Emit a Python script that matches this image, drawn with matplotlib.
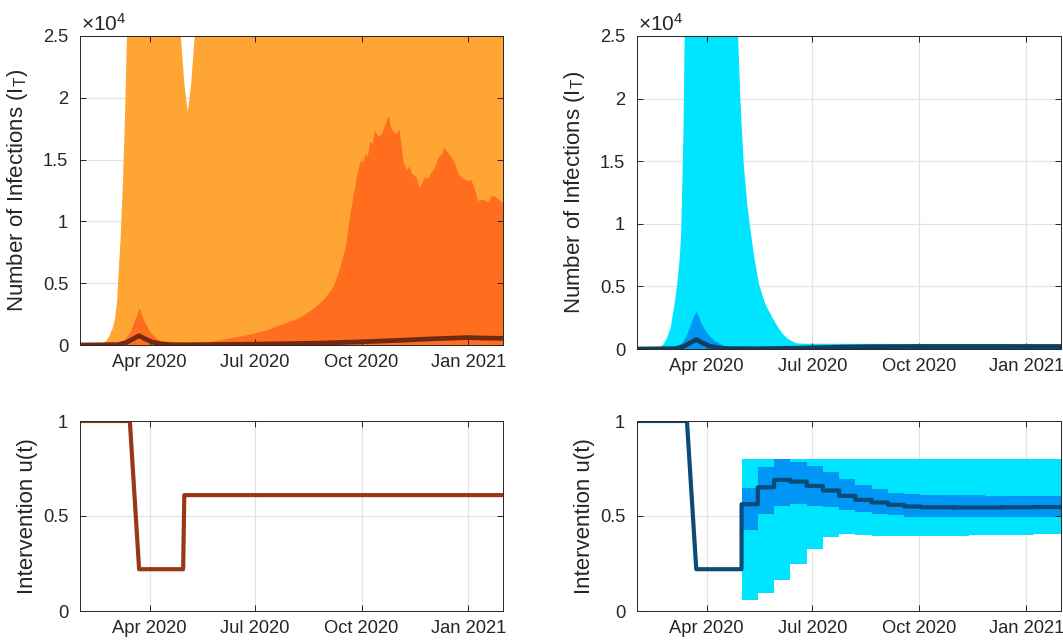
import numpy as np
import pandas as pd
import matplotlib
matplotlib.use("Agg")
import matplotlib.pyplot as plt
import matplotlib.dates as mdates
from matplotlib.ticker import FixedLocator

plt.rcParams['font.family'] = ['Liberation Sans', 'DejaVu Sans']
plt.rcParams['mathtext.default'] = 'regular'

# ---------------- data ----------------
X_START = '2020-02-01'
X_END = '2021-01-31'
X_TICKS = ['2020-04-01', '2020-07-01', '2020-10-01', '2021-01-01']

# Top-left: outer (light) band upper bound
TL_LIGHT_DATES = ['2020-02-01', '2020-02-12', '2020-02-18', '2020-02-21', '2020-02-24',
                  '2020-02-26', '2020-02-29', '2020-03-02', '2020-03-04', '2020-03-05',
                  '2020-03-07', '2020-03-09', '2020-03-11', '2020-03-12 12:00', '2020-03-14',
                  '2020-04-25', '2020-04-28', '2020-04-30', '2020-05-01', '2020-05-02 12:00',
                  '2020-05-04', '2020-05-05 12:00', '2020-05-07', '2020-05-08', '2020-05-10',
                  '2020-05-13', '2021-01-31']
TL_LIGHT_HI = [0, 15, 50, 130, 350, 670, 1300, 2000, 3500, 5300,
               8500, 13000, 19000, 25000, 60000,
               60000, 25000, 22500, 21200, 20000,
               18900, 20000, 21200, 22500, 25000,
               60000, 60000]

# Top-left: inner (dark) band upper bound
TL_DARK_DATES = ['2020-02-01', '2020-03-01', '2020-03-06', '2020-03-10', '2020-03-15',
                 '2020-03-19', '2020-03-23', '2020-03-27', '2020-04-01', '2020-04-06',
                 '2020-04-12', '2020-04-20', '2020-05-01', '2020-05-14', '2020-05-28',
                 '2020-06-11', '2020-06-26', '2020-07-10', '2020-07-24', '2020-08-08',
                 '2020-08-22', '2020-08-30', '2020-09-06', '2020-09-11', '2020-09-17',
                 '2020-09-21', '2020-09-24', '2020-09-27', '2020-09-30', '2020-10-02',
                 '2020-10-04', '2020-10-06', '2020-10-08', '2020-10-10', '2020-10-12',
                 '2020-10-15', '2020-10-18', '2020-10-21', '2020-10-24', '2020-10-26',
                 '2020-10-28', '2020-10-31', '2020-11-02', '2020-11-04', '2020-11-06',
                 '2020-11-09', '2020-11-11', '2020-11-13', '2020-11-17', '2020-11-20',
                 '2020-11-24', '2020-11-27', '2020-11-30', '2020-12-03', '2020-12-06',
                 '2020-12-09', '2020-12-11', '2020-12-14', '2020-12-17', '2020-12-20',
                 '2020-12-23', '2020-12-27', '2021-01-01', '2021-01-03', '2021-01-05',
                 '2021-01-07', '2021-01-09', '2021-01-13', '2021-01-18', '2021-01-21',
                 '2021-01-24', '2021-01-27', '2021-01-31']
TL_DARK_HI = [0, 30, 150, 400, 1000, 2000, 3000, 2000, 1100, 600,
              300, 150, 100, 190, 350, 600, 860, 1200, 1700, 2200,
              3100, 3800, 4700, 5900, 8000, 10700, 12300, 13900, 15000, 14800,
              15500, 15300, 16500, 16300, 17400, 16900, 17100, 17800, 18600, 17600,
              17300, 17100, 17500, 16200, 14700, 14200, 14500, 13900, 13600, 12700,
              13600, 13500, 14000, 14400, 15200, 15500, 16000, 15600, 15200, 14800,
              13900, 13500, 13300, 13400, 13000, 12400, 11700, 11800, 11600, 12100,
              12000, 11800, 11500]

# Top-left: median
TL_MED_DATES = ['2020-02-01', '2020-03-05', '2020-03-12', '2020-03-18', '2020-03-23',
                '2020-03-28', '2020-04-03', '2020-04-10', '2020-04-20', '2020-05-01',
                '2020-06-01', '2020-07-01', '2020-08-01', '2020-09-01', '2020-10-01',
                '2020-11-01', '2020-12-01', '2021-01-01', '2021-01-15', '2021-01-31']
TL_MED = [0, 30, 200, 500, 750, 500, 250, 100, 30, 20,
          40, 70, 110, 170, 260, 370, 500, 600, 560, 540]

# Top-right: outer (light) band upper bound
TR_LIGHT_DATES = ['2020-02-01', '2020-02-12', '2020-02-18', '2020-02-21', '2020-02-24',
                  '2020-02-27', '2020-03-01', '2020-03-03', '2020-03-05', '2020-03-07',
                  '2020-03-09', '2020-03-10', '2020-03-11', '2020-03-12', '2020-03-13',
                  '2020-03-15', '2020-04-25', '2020-04-28', '2020-04-29', '2020-04-30',
                  '2020-05-01', '2020-05-03', '2020-05-06', '2020-05-09', '2020-05-12',
                  '2020-05-16', '2020-05-21', '2020-05-27', '2020-06-01', '2020-06-05',
                  '2020-06-10', '2020-06-17', '2020-06-25', '2020-10-01', '2021-01-31']
TR_LIGHT_HI = [0, 15, 50, 150, 400, 900, 1700, 2850, 4000, 5500,
               7500, 9300, 13000, 17200, 25000, 60000, 60000, 25000, 22500, 20000,
               18000, 14600, 11500, 9300, 7300, 5200, 3700, 2600, 1800, 1250,
               800, 450, 420, 400, 380]

# Top-right: inner band upper bound
TR_MID_DATES = ['2020-02-01', '2020-03-05', '2020-03-10', '2020-03-14', '2020-03-18',
                '2020-03-21', '2020-03-23', '2020-03-25', '2020-03-27', '2020-04-01',
                '2020-04-07', '2020-04-15', '2020-04-25', '2020-05-10', '2020-06-01',
                '2020-07-01', '2020-08-01', '2020-10-01', '2021-01-31']
TR_MID_HI = [0, 150, 450, 1000, 2000, 2700, 3000, 2600, 2100, 1300,
             700, 300, 120, 60, 80, 200, 280, 300, 300]

# Top-right: median
TR_MED_DATES = ['2020-02-01', '2020-03-05', '2020-03-12', '2020-03-18', '2020-03-23',
                '2020-03-28', '2020-04-03', '2020-04-10', '2020-04-20', '2020-05-15',
                '2020-06-15', '2020-07-15', '2020-08-15', '2020-10-01', '2021-01-31']
TR_MED = [0, 30, 200, 500, 750, 500, 250, 100, 30, 20,
          60, 130, 180, 200, 200]

# Bottom-left: intervention
BL_U_DATES = ['2020-02-01', '2020-03-15', '2020-03-23', '2020-04-30', '2020-05-01', '2021-01-31']
BL_U = [1.0, 1.0, 0.22, 0.22, 0.61, 0.61]

# Bottom-right: fixed early part, then bi-weekly steps
BR_EARLY_DATES = ['2020-02-01', '2020-03-15', '2020-03-23', '2020-05-01']
BR_EARLY_U = [1.0, 1.0, 0.22, 0.22]
BR_STEP_DATES = ['2020-05-01', '2020-05-15', '2020-05-29', '2020-06-12', '2020-06-26',
                 '2020-07-10', '2020-07-24', '2020-08-07', '2020-08-21', '2020-09-04',
                 '2020-09-18', '2020-10-02', '2020-10-16', '2020-10-30', '2020-11-13',
                 '2020-11-27', '2020-12-11', '2020-12-25', '2021-01-08', '2021-01-22']
BR_MED = [0.562, 0.651, 0.690, 0.681, 0.658, 0.634, 0.606, 0.585, 0.571, 0.559,
          0.550, 0.546, 0.546, 0.545, 0.545, 0.545, 0.546, 0.546, 0.547, 0.547]
BR_MID_HI = [0.646, 0.760, 0.799, 0.786, 0.764, 0.734, 0.695, 0.664, 0.641, 0.623,
             0.616, 0.611, 0.610, 0.609, 0.608, 0.607, 0.607, 0.606, 0.606, 0.606]
BR_MID_LO = [0.427, 0.511, 0.553, 0.562, 0.553, 0.546, 0.532, 0.520, 0.511, 0.503,
             0.497, 0.494, 0.494, 0.494, 0.495, 0.495, 0.496, 0.496, 0.497, 0.497]
BR_LIGHT_HI = [0.80] * 20
BR_LIGHT_LO = [0.060, 0.095, 0.161, 0.249, 0.324, 0.387, 0.406, 0.401, 0.396, 0.396,
               0.396, 0.396, 0.396, 0.397, 0.398, 0.399, 0.400, 0.401, 0.403, 0.405]

TOP_YTICKS = [0, 5000, 10000, 15000, 20000, 25000]
TOP_YTICKLABELS = ['0', '0.5', '1', '1.5', '2', '2.5']
BOT_YTICKS = [0, 0.5, 1]
BOT_YTICKLABELS = ['0', '0.5', '1']

# ---------------- colours ----------------
C_OR_LIGHT = '#FFA533'
C_OR_DARK = '#FF6D1F'
C_OR_LINE = '#72290F'
C_OR_U = '#9A3816'
C_CY_LIGHT = '#00E5FF'
C_CY_MID = '#0096F5'
C_CY_LINE = '#103E5E'
C_CY_U = '#0C4B78'
AX_COL = '#262626'
GRID_COL = '#E3E3E3'

W, H = 1063, 644
fig = plt.figure(figsize=(W / 100, H / 100), dpi=100)


def d(lst):
    return pd.to_datetime(lst, format='mixed')


def add_ax(l, t, r, b):
    return fig.add_axes([l / W, 1 - b / H, (r - l) / W, (b - t) / H])


def style(ax, ylim, yticks, ylabels, ylabel, lab_x):
    ax.set_xlim(pd.Timestamp(X_START), pd.Timestamp(X_END))
    ax.set_ylim(*ylim)
    xt = mdates.date2num(d(X_TICKS))
    ax.xaxis.set_major_locator(FixedLocator(xt))
    ax.xaxis.set_major_formatter(mdates.DateFormatter('%b %Y'))
    ax.set_yticks(yticks)
    ax.set_yticklabels(ylabels)
    for x in xt:
        ax.axvline(x, color=GRID_COL, lw=0.9, zorder=0)
    for y in yticks:
        ax.axhline(y, color=GRID_COL, lw=0.9, zorder=0)
    ax.tick_params(direction='in', top=True, right=True, length=4, width=0.7,
                   colors=AX_COL, labelsize=13.2)
    ax.tick_params(axis='x', pad=6.5)
    ax.tick_params(axis='y', pad=8.5)
    for s in ax.spines.values():
        s.set_color(AX_COL)
        s.set_linewidth(0.7)
    ax.set_ylabel(ylabel, fontsize=16, color=AX_COL)
    ax.yaxis.set_label_coords(lab_x, 0.5)


def sci_label(ax):
    ax.text(0.003, 1.004, r'$\times$10$^4$', transform=ax.transAxes, fontsize=15,
            color=AX_COL, va='bottom', ha='left')


# ---- top left ----
ax = add_ax(80, 36, 503, 345)
ax.fill_between(d(TL_LIGHT_DATES), 0, TL_LIGHT_HI, color=C_OR_LIGHT, lw=0, zorder=1)
ax.fill_between(d(TL_DARK_DATES), 0, TL_DARK_HI, color=C_OR_DARK, lw=0, zorder=1.1)
ax.plot(d(TL_MED_DATES), TL_MED, color=C_OR_LINE, lw=3.4, zorder=2)
style(ax, (0, 25000), TOP_YTICKS, TOP_YTICKLABELS, 'Number of Infections (I$_T$)', -0.118)
sci_label(ax)

# ---- top right ----
ax = add_ax(637, 36, 1061, 349)
ax.fill_between(d(TR_LIGHT_DATES), 0, TR_LIGHT_HI, color=C_CY_LIGHT, lw=0, zorder=1)
ax.fill_between(d(TR_MID_DATES), 0, TR_MID_HI, color=C_CY_MID, lw=0, zorder=1.1)
ax.plot(d(TR_MED_DATES), TR_MED, color=C_CY_LINE, lw=3.4, zorder=2)
style(ax, (0, 25000), TOP_YTICKS, TOP_YTICKLABELS, 'Number of Infections (I$_T$)', -0.118)
sci_label(ax)

# ---- bottom left ----
ax = add_ax(80, 421, 503, 611)
ax.plot(d(BL_U_DATES), BL_U, color=C_OR_U, lw=3.0, zorder=2)
style(ax, (0, 1), BOT_YTICKS, BOT_YTICKLABELS, 'Intervention u(t)', -0.1)

# ---- bottom right ----
ax = add_ax(637, 421, 1061, 611)
step_x = d(BR_STEP_DATES + [X_END])
ax.fill_between(step_x, BR_LIGHT_LO + BR_LIGHT_LO[-1:], BR_LIGHT_HI + BR_LIGHT_HI[-1:],
                step='post', color=C_CY_LIGHT, lw=0, zorder=1)
ax.fill_between(step_x, BR_MID_LO + BR_MID_LO[-1:], BR_MID_HI + BR_MID_HI[-1:],
                step='post', color=C_CY_MID, lw=0, zorder=1.1)
# median line: early part joined to the step part
sx = np.repeat(mdates.date2num(step_x), 2)[1:-1]
sy = np.repeat(np.array(BR_MED), 2)
line_x = np.concatenate([mdates.date2num(d(BR_EARLY_DATES)), sx])
line_y = np.concatenate([BR_EARLY_U, sy])
ax.plot(line_x, line_y, color=C_CY_U, lw=3.0, zorder=2)
style(ax, (0, 1), BOT_YTICKS, BOT_YTICKLABELS, 'Intervention u(t)', -0.098)

fig.savefig('out.png', dpi=100)
